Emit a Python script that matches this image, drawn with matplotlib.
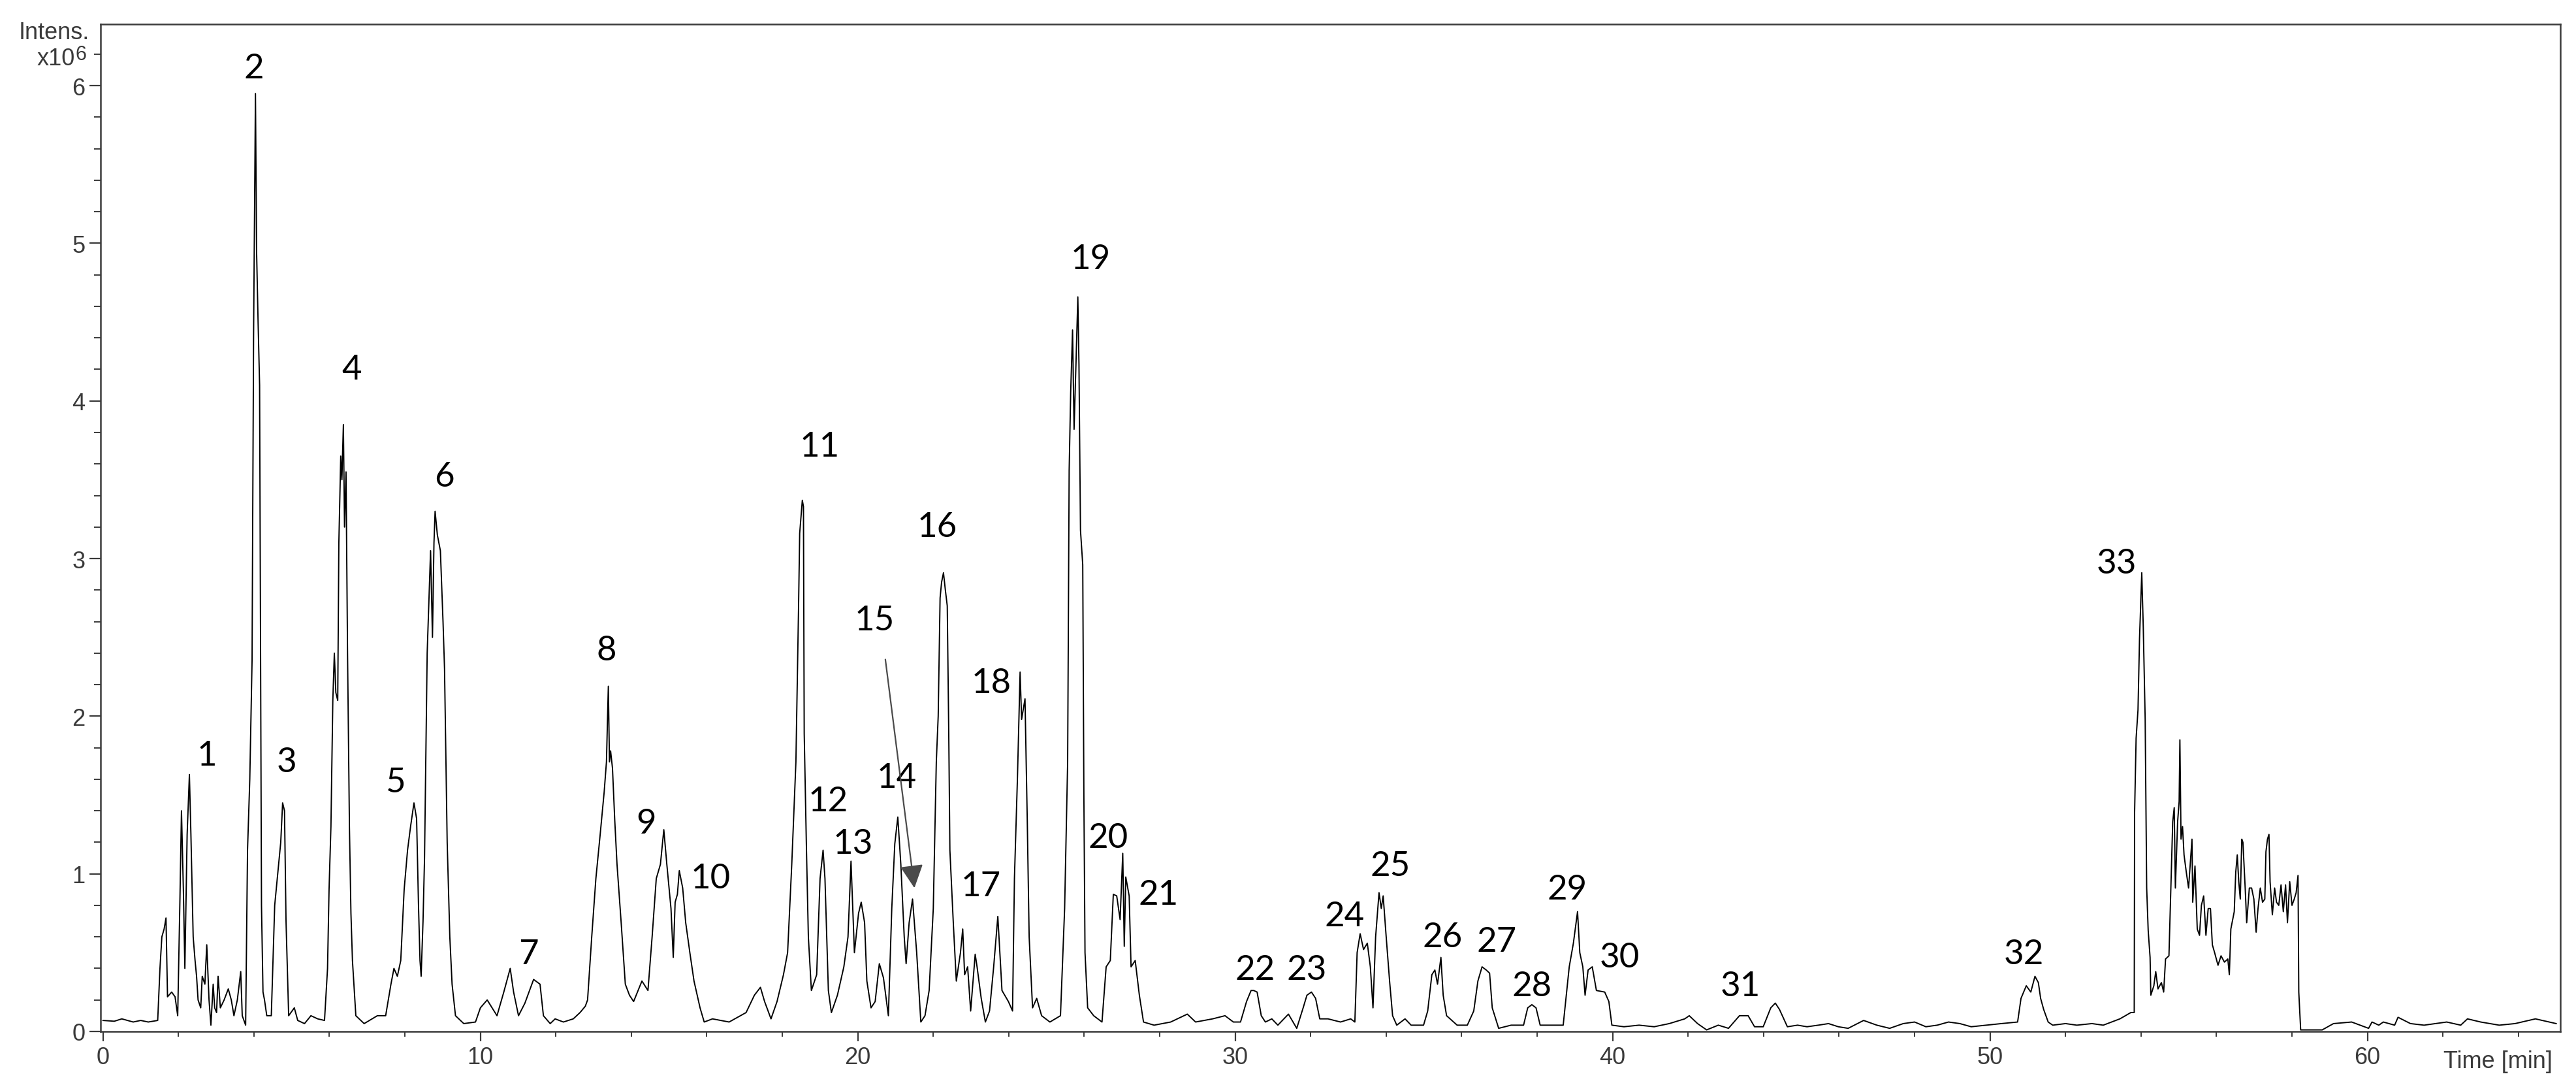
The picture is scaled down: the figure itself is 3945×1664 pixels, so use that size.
import numpy as np
import matplotlib
matplotlib.use("Agg")
import matplotlib.pyplot as plt
from matplotlib.ticker import MultipleLocator

seg_0_13 = [(0.0, 0.07), (0.3, 0.065), (0.5, 0.08), (0.8, 0.06), (1.0, 0.07), (1.2, 0.06), (1.45, 0.07),
            (1.51, 0.4), (1.56, 0.6), (1.62, 0.65), (1.67, 0.72), (1.71, 0.22), (1.82, 0.25), (1.91, 0.22),
            (1.98, 0.1), (2.04, 0.85), (2.08, 1.4), (2.13, 0.9), (2.17, 0.4), (2.23, 1.25), (2.29, 1.63),
            (2.33, 1.25), (2.39, 0.6), (2.44, 0.45), (2.48, 0.35), (2.52, 0.2), (2.59, 0.15), (2.63, 0.35),
            (2.7, 0.3), (2.75, 0.55), (2.81, 0.2), (2.86, 0.04), (2.92, 0.3), (2.96, 0.15), (3.01, 0.12),
            (3.05, 0.35), (3.11, 0.15), (3.21, 0.2), (3.32, 0.27), (3.4, 0.2), (3.47, 0.1), (3.56, 0.2),
            (3.65, 0.38), (3.69, 0.1), (3.78, 0.04), (3.83, 1.15), (3.89, 1.6), (3.95, 2.35), (3.99, 4.4),
            (4.04, 5.95), (4.07, 4.95), (4.11, 4.5), (4.15, 4.1), (4.2, 0.8), (4.24, 0.25), (4.28, 0.2),
            (4.34, 0.1), (4.46, 0.1), (4.55, 0.8), (4.63, 1.0), (4.71, 1.2), (4.76, 1.45), (4.81, 1.4),
            (4.85, 0.7), (4.92, 0.1), (5.07, 0.15), (5.16, 0.07), (5.34, 0.05), (5.51, 0.1), (5.69, 0.08),
            (5.87, 0.07), (5.95, 0.4), (5.99, 0.9), (6.04, 1.3), (6.09, 2.1), (6.13, 2.4), (6.17, 2.15),
            (6.22, 2.1), (6.25, 3.1), (6.3, 3.65), (6.33, 3.5), (6.37, 3.85), (6.4, 3.2), (6.44, 3.55),
            (6.48, 2.4), (6.53, 1.3), (6.57, 0.75), (6.61, 0.45), (6.7, 0.1), (6.92, 0.05), (7.27, 0.1),
            (7.49, 0.1), (7.63, 0.3), (7.71, 0.4), (7.8, 0.35), (7.89, 0.45), (7.98, 0.9), (8.07, 1.15),
            (8.15, 1.3), (8.24, 1.45), (8.31, 1.35), (8.36, 0.8), (8.4, 0.45), (8.43, 0.35), (8.48, 0.7),
            (8.52, 1.1), (8.59, 2.4), (8.68, 3.05), (8.73, 2.5), (8.77, 3.1), (8.8, 3.3), (8.86, 3.15),
            (8.94, 3.05), (9.01, 2.6), (9.05, 2.3), (9.12, 1.2), (9.19, 0.6), (9.25, 0.3), (9.34, 0.1),
            (9.56, 0.05), (9.87, 0.06), (10.0, 0.15), (10.18, 0.2), (10.31, 0.15), (10.44, 0.1),
            (10.62, 0.25), (10.79, 0.4), (10.88, 0.25), (11.01, 0.1), (11.18, 0.18), (11.41, 0.33),
            (11.58, 0.3), (11.67, 0.1), (11.85, 0.05), (11.98, 0.08), (12.2, 0.06), (12.46, 0.08),
            (12.64, 0.12), (12.78, 0.16)]

seg_13_30 = [(12.84, 0.2), (12.95, 0.6), (13.06, 0.97), (13.17, 1.24), (13.28, 1.52), (13.34, 1.71),
             (13.39, 2.19), (13.42, 1.71), (13.45, 1.78), (13.5, 1.67), (13.56, 1.34), (13.62, 1.06),
             (13.73, 0.69), (13.84, 0.3), (13.95, 0.23), (14.06, 0.19), (14.28, 0.32), (14.44, 0.26),
             (14.55, 0.6), (14.66, 0.97), (14.77, 1.06), (14.86, 1.28), (14.94, 1.06), (15.05, 0.78),
             (15.11, 0.47), (15.16, 0.82), (15.22, 0.87), (15.27, 1.02), (15.36, 0.91), (15.44, 0.69),
             (15.55, 0.5), (15.66, 0.32), (15.82, 0.15), (15.93, 0.06), (16.15, 0.08), (16.59, 0.06),
             (17.04, 0.12), (17.26, 0.23), (17.42, 0.28), (17.53, 0.19), (17.7, 0.08), (17.86, 0.19),
             (18.03, 0.36), (18.14, 0.5), (18.25, 1.06), (18.36, 1.71), (18.43, 2.69), (18.46, 3.16),
             (18.53, 3.37), (18.56, 3.33), (18.58, 1.89), (18.64, 1.15), (18.69, 0.6), (18.77, 0.26),
             (18.91, 0.36), (19.0, 0.97), (19.08, 1.15), (19.13, 0.97), (19.22, 0.26), (19.3, 0.12),
             (19.46, 0.23), (19.63, 0.41), (19.74, 0.6), (19.82, 1.08), (19.91, 0.5), (20.02, 0.75),
             (20.09, 0.82), (20.18, 0.69), (20.24, 0.32), (20.35, 0.15), (20.46, 0.19), (20.57, 0.43),
             (20.68, 0.34), (20.81, 0.1), (20.9, 0.78), (20.98, 1.19), (21.06, 1.36), (21.14, 1.06),
             (21.23, 0.6), (21.28, 0.43), (21.36, 0.69), (21.45, 0.84), (21.56, 0.5), (21.67, 0.06),
             (21.78, 0.1), (21.89, 0.26), (22.0, 0.78), (22.08, 1.71), (22.13, 2.0), (22.18, 2.75),
             (22.22, 2.85), (22.27, 2.91), (22.32, 2.8), (22.37, 2.7), (22.41, 1.89), (22.44, 1.15),
             (22.53, 0.69), (22.61, 0.32), (22.72, 0.5), (22.78, 0.65), (22.83, 0.36), (22.91, 0.41),
             (22.99, 0.13), (23.11, 0.49), (23.16, 0.41), (23.27, 0.21), (23.38, 0.06), (23.49, 0.13),
             (23.6, 0.41), (23.71, 0.73), (23.82, 0.26), (23.99, 0.19), (24.1, 0.13), (24.15, 0.97),
             (24.23, 1.61), (24.3, 2.28), (24.34, 1.98), (24.43, 2.11), (24.49, 1.34), (24.54, 0.6),
             (24.63, 0.15), (24.74, 0.21), (24.87, 0.1), (25.09, 0.06), (25.37, 0.1), (25.48, 0.78),
             (25.56, 1.71), (25.6, 3.56), (25.64, 4.05), (25.69, 4.45), (25.73, 3.82), (25.78, 4.23),
             (25.83, 4.66), (25.86, 4.23), (25.9, 3.18), (25.96, 2.96), (25.99, 1.5), (26.02, 0.5),
             (26.09, 0.15), (26.25, 0.1), (26.47, 0.06), (26.58, 0.41), (26.69, 0.45), (26.77, 0.87),
             (26.86, 0.86), (26.95, 0.71), (27.02, 1.13), (27.06, 0.54), (27.1, 0.98), (27.19, 0.86),
             (27.24, 0.41), (27.35, 0.45), (27.46, 0.23), (27.57, 0.06), (27.85, 0.04), (28.29, 0.06),
             (28.73, 0.11), (28.95, 0.06), (29.4, 0.08), (29.73, 0.1), (29.95, 0.06)]

seg_30_48 = [(30.14, 0.06), (30.3, 0.19), (30.42, 0.26), (30.49, 0.26), (30.58, 0.25), (30.69, 0.1),
             (30.8, 0.06), (30.97, 0.08), (31.13, 0.04), (31.41, 0.11), (31.63, 0.02), (31.8, 0.15),
             (31.9, 0.23), (32.02, 0.25), (32.13, 0.21), (32.24, 0.08), (32.46, 0.08), (32.79, 0.06),
             (33.06, 0.08), (33.17, 0.06), (33.23, 0.5), (33.31, 0.62), (33.4, 0.52), (33.5, 0.56),
             (33.58, 0.41), (33.65, 0.15), (33.72, 0.6), (33.81, 0.88), (33.87, 0.78), (33.92, 0.86),
             (34.0, 0.6), (34.09, 0.32), (34.17, 0.1), (34.28, 0.04), (34.5, 0.08), (34.66, 0.04),
             (34.99, 0.04), (35.1, 0.13), (35.21, 0.36), (35.29, 0.39), (35.36, 0.3), (35.45, 0.47),
             (35.51, 0.23), (35.6, 0.1), (35.88, 0.04), (36.15, 0.04), (36.32, 0.13), (36.43, 0.32),
             (36.54, 0.41), (36.65, 0.39), (36.74, 0.37), (36.81, 0.15), (36.98, 0.02), (37.31, 0.04),
             (37.64, 0.04), (37.75, 0.15), (37.86, 0.17), (37.97, 0.15), (38.08, 0.04), (38.3, 0.04),
             (38.69, 0.04), (38.85, 0.41), (38.96, 0.56), (39.07, 0.76), (39.13, 0.5), (39.21, 0.41),
             (39.27, 0.23), (39.35, 0.39), (39.46, 0.41), (39.57, 0.26), (39.79, 0.25), (39.9, 0.19),
             (39.98, 0.04), (40.3, 0.03), (40.7, 0.04), (41.1, 0.03), (41.5, 0.05), (41.91, 0.08),
             (42.03, 0.1), (42.25, 0.05), (42.49, 0.01), (42.8, 0.04), (43.07, 0.02), (43.36, 0.1),
             (43.59, 0.1), (43.76, 0.03), (43.99, 0.03), (44.19, 0.15), (44.31, 0.18), (44.42, 0.14),
             (44.63, 0.03), (44.9, 0.04), (45.15, 0.03), (45.45, 0.04), (45.72, 0.05), (45.98, 0.03),
             (46.24, 0.02), (46.65, 0.07), (47.0, 0.04), (47.34, 0.02)]

seg_48_65 = [(47.7, 0.05), (48.0, 0.06), (48.3, 0.03), (48.6, 0.04), (48.9, 0.06), (49.2, 0.05),
             (49.5, 0.03), (49.9, 0.04), (50.3, 0.05), (50.73, 0.06),
             (50.82, 0.21), (50.96, 0.29), (51.08, 0.25), (51.19, 0.35), (51.28, 0.31), (51.34, 0.21),
             (51.42, 0.14), (51.54, 0.06), (51.66, 0.04), (52.0, 0.05), (52.3, 0.04), (52.7, 0.05),
             (53.0, 0.04), (53.44, 0.08),
             (53.73, 0.12), (53.82, 0.12), (53.83, 1.39), (53.87, 1.86), (53.92, 2.04), (53.96, 2.49),
             (54.02, 2.91), (54.06, 2.56), (54.11, 1.98), (54.15, 0.91), (54.19, 0.64), (54.24, 0.47),
             (54.26, 0.23), (54.34, 0.29), (54.39, 0.38), (54.45, 0.27), (54.54, 0.31), (54.6, 0.25),
             (54.65, 0.46), (54.74, 0.48), (54.78, 0.82), (54.84, 1.33), (54.88, 1.42), (54.91, 0.91),
             (54.97, 1.33), (55.01, 1.46), (55.03, 1.85), (55.06, 1.22), (55.1, 1.3), (55.14, 1.12),
             (55.2, 1.01), (55.26, 0.91), (55.32, 1.12), (55.35, 1.22), (55.37, 0.82), (55.43, 1.05),
             (55.49, 0.65), (55.55, 0.61), (55.6, 0.8), (55.66, 0.86), (55.72, 0.61), (55.78, 0.78),
             (55.84, 0.78), (55.89, 0.55), (55.95, 0.5), (56.04, 0.42), (56.12, 0.48), (56.21, 0.44),
             (56.3, 0.46), (56.34, 0.36), (56.38, 0.65), (56.47, 0.76), (56.51, 1.01), (56.55, 1.12),
             (56.59, 0.95), (56.63, 0.84), (56.67, 1.22), (56.7, 1.2), (56.76, 0.91), (56.8, 0.69),
             (56.87, 0.91), (56.93, 0.91), (56.99, 0.84), (57.05, 0.63), (57.1, 0.78), (57.16, 0.91),
             (57.22, 0.82), (57.28, 0.84), (57.31, 1.14), (57.35, 1.22), (57.39, 1.25), (57.42, 0.95),
             (57.48, 0.74), (57.54, 0.91), (57.59, 0.82), (57.65, 0.8), (57.71, 0.93), (57.77, 0.76),
             (57.83, 0.93), (57.88, 0.69), (57.94, 0.95), (58.0, 0.8), (58.06, 0.84), (58.11, 0.88),
             (58.16, 0.99), (58.18, 0.25), (58.23, 0.01), (58.32, 0.01), (58.8, 0.01), (59.1, 0.05),
             (59.58, 0.06), (60.03, 0.02), (60.12, 0.06), (60.3, 0.04), (60.42, 0.06), (60.72, 0.04),
             (60.81, 0.09), (61.14, 0.05), (61.5, 0.04), (62.1, 0.06), (62.47, 0.04), (62.65, 0.08),
             (63.0, 0.06), (63.49, 0.04), (63.91, 0.05), (64.45, 0.08), (65.0, 0.05)]

# numeros de los picos y posicion (centro) de cada etiqueta
peak_ids = [str(i) for i in range(1, 34)]
label_t = [2.75, 4.0, 4.87, 6.59, 7.74, 9.05, 11.27, 13.34, 14.39, 16.1, 18.99, 19.22, 19.88, 21.03,
           20.44, 22.1, 23.27, 23.54, 26.17, 26.63, 27.96, 30.53, 31.9, 32.9, 34.11, 35.49, 36.92,
           37.86, 38.8, 40.18, 43.38, 50.9, 53.36]
label_y = [1.75, 6.11, 1.71, 4.2, 1.58, 3.52, 0.49, 2.42, 1.32, 0.97, 3.71, 1.46, 1.19, 1.61,
           2.61, 3.2, 0.92, 2.21, 4.9, 1.23, 0.87, 0.39, 0.39, 0.73, 1.05, 0.6, 0.57,
           0.29, 0.9, 0.47, 0.29, 0.49, 2.97]

# flecha del pico 15
arrow_from = (20.73, 2.36)
arrow_to = (21.5, 0.91)

#---------------------------------GRAFICO-------------------------------
datos = np.array(seg_0_13 + seg_13_30 + seg_30_48 + seg_48_65)
t = datos[:, 0]
inten = datos[:, 1]

tick_font = ['Liberation Sans Narrow', 'Liberation Sans', 'DejaVu Sans']
gris = '#3a3a3a'

W, H = 3945, 1665
fig = plt.figure(figsize=(W / 100, H / 100), dpi=100)
ax = fig.add_axes([154 / W, 1 - 1580 / H, (3921 - 154) / W, (1580 - 38) / H])

ax.plot(t, inten, color='black', lw=1.4)

ax.set_xlim(-0.064, 65.11)
ax.set_ylim(0, 6.39)

ax.xaxis.set_major_locator(MultipleLocator(10))
ax.xaxis.set_minor_locator(MultipleLocator(2))
ax.yaxis.set_major_locator(MultipleLocator(1))
ax.yaxis.set_minor_locator(MultipleLocator(0.2))
ax.tick_params(which='major', direction='out', length=11, width=1.6, colors=gris, pad=5)
ax.tick_params(which='minor', direction='out', length=6, width=1.4, colors=gris)
ax.tick_params(axis='y', which='major', length=12)
ax.tick_params(axis='y', which='minor', length=7)
for lab in ax.get_xticklabels() + ax.get_yticklabels():
    lab.set_family(tick_font)
    lab.set_fontsize(26)
    lab.set_color(gris)
for s in ax.spines.values():
    s.set_linewidth(1.8)
    s.set_color(gris)

# etiquetas de los picos
for nombre, x, y in zip(peak_ids, label_t, label_y):
    ax.text(x, y, nombre, ha='center', va='center', fontsize=38,
            family=['Lato', 'DejaVu Sans'], color='black')

ax.annotate('', xy=arrow_to, xytext=arrow_from,
            arrowprops=dict(arrowstyle='-|>', color='#4a4a4a', lw=1.6, mutation_scale=55,
                            shrinkA=0, shrinkB=0))

# textos de los ejes (estilo del software del equipo)
fig.text(83 / W, 1 - 50 / H, 'Intens.', ha='center', va='center', fontsize=26,
         family=tick_font, color=gris)
fig.text(115 / W, 1 - 100 / H, 'x10', ha='right', va='baseline', fontsize=26,
         family=tick_font, color=gris)
fig.text(115 / W, 1 - 92 / H, '6', ha='left', va='baseline', fontsize=22,
         family=tick_font, color=gris)
fig.text(3909 / W, 1 - 1626 / H, 'Time [min]', ha='right', va='center', fontsize=26,
         family=tick_font, color=gris)

fig.savefig('out.png', dpi=100)
